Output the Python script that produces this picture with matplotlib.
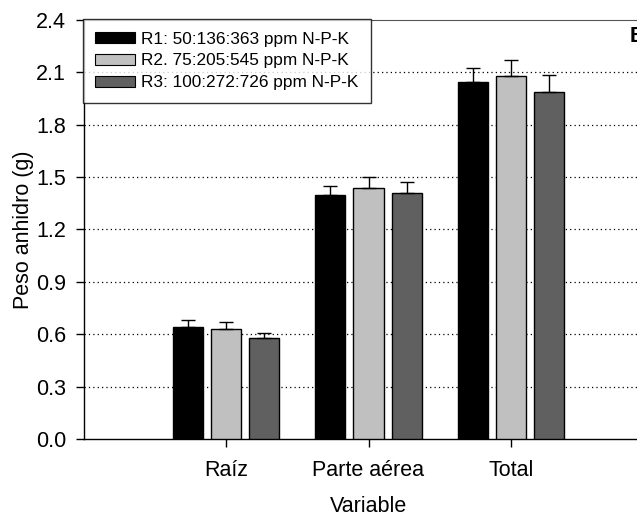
import matplotlib
matplotlib.use("Agg")
import matplotlib.pyplot as plt
from matplotlib.patches import Patch
import numpy as np

plt.rcParams['font.family'] = ['Liberation Sans', 'DejaVu Sans']

categories = ["Raíz", "Parte aérea", "Total"]
series_names = ["R1: 50:136:363 ppm N-P-K",
                "R2. 75:205:545 ppm N-P-K",
                "R3: 100:272:726 ppm N-P-K"]
r1 = [0.64, 1.40, 2.045]
r2 = [0.63, 1.44, 2.08]
r3 = [0.58, 1.41, 1.99]
r1_err = [0.04, 0.05, 0.08]
r2_err = [0.04, 0.06, 0.09]
r3_err = [0.03, 0.06, 0.095]
colors = ["#000000", "#c0c0c0", "#606060"]
yticks = [0.0, 0.3, 0.6, 0.9, 1.2, 1.5, 1.8, 2.1, 2.4]

W, H = 637, 518
fig = plt.figure(figsize=(W/100, H/100), dpi=100)
left, right, top, bottom = 84, 653, 20, 439
ax = fig.add_axes([left/W, 1-bottom/H, (right-left)/W, (bottom-top)/H])

x = np.arange(1, len(categories)+1)
bw = 30/142
step = 38/142
for i, (vals, errs) in enumerate(zip([r1, r2, r3], [r1_err, r2_err, r3_err])):
    pos = x + (i-1)*step
    ax.bar(pos, vals, width=bw, color=colors[i], edgecolor="black", linewidth=1.0, zorder=3,
           yerr=[np.zeros(len(errs)), errs],
           error_kw=dict(ecolor="black", elinewidth=1.0, capsize=5, capthick=1.0, zorder=4))

ax.set_xlim(0, 4)
ax.set_ylim(0, 2.4)
ax.set_yticks(yticks)
ax.set_yticklabels([f"{v:.1f}" for v in yticks])
ax.set_xticks(x)
ax.set_xticklabels(categories)
for yv in yticks[1:-1]:
    ax.axhline(yv, color="black", linestyle=(0, (1, 2.5)), linewidth=0.9, zorder=1)

ax.spines["right"].set_visible(False)
ax.spines["top"].set_color("#555555")
for s in ["left", "bottom"]:
    ax.spines[s].set_linewidth(1.0)
ax.tick_params(axis="both", direction="out", length=6, width=1, labelsize=15.5, colors="black")
ax.tick_params(axis="y", pad=7)
ax.tick_params(axis="x", pad=9)

ax.set_ylabel("Peso anhidro (g)", fontsize=15.5, labelpad=1)
ax.set_xlabel("Variable", fontsize=15.5, labelpad=11)

handles = [Patch(facecolor=c, edgecolor="black", linewidth=0.8) for c in colors]
leg = ax.legend(handles, series_names, loc="upper left", bbox_to_anchor=(-0.002, 1.002),
                fontsize=12.4, frameon=True, fancybox=False, edgecolor="black",
                handlelength=2.3, handleheight=0.65, handletextpad=0.35,
                labelspacing=0.4, borderpad=0.72, borderaxespad=0)
leg.get_frame().set_linewidth(1.0)

fig.text(630/W, 1-36/H, "B", fontsize=15.5, fontweight="bold", ha="left", va="center")

fig.savefig("out.png", dpi=100)
